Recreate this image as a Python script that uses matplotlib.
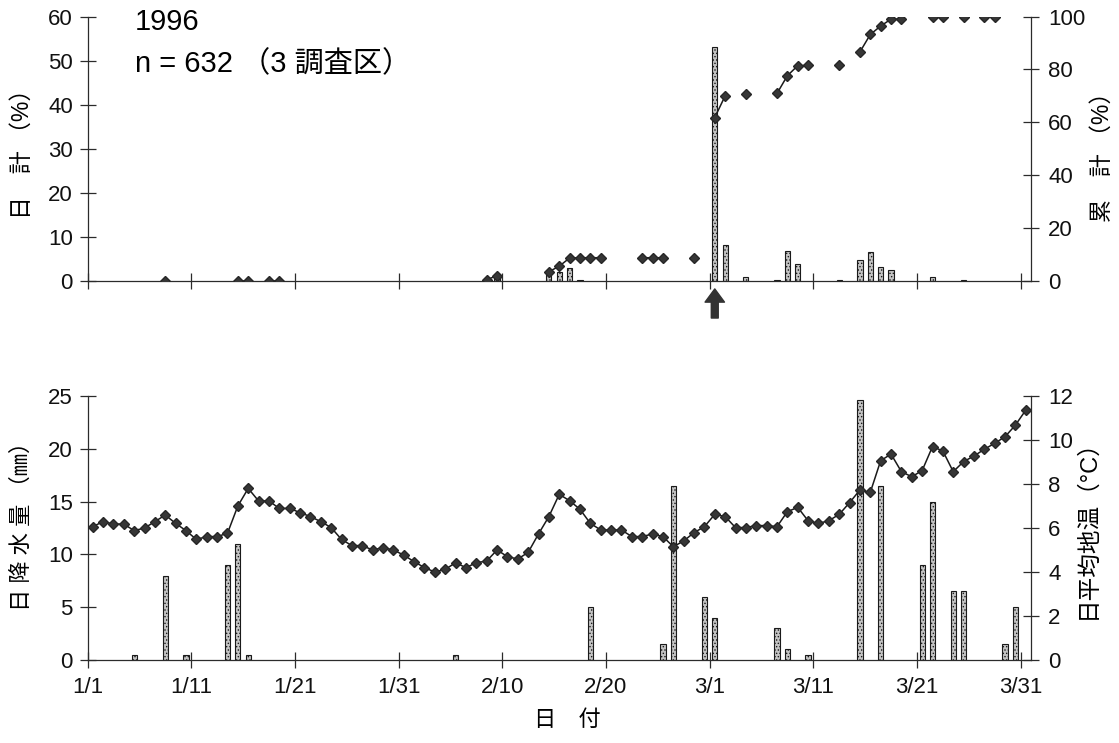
import numpy as np
import pandas as pd
import matplotlib
matplotlib.use('Agg')
import matplotlib.pyplot as plt

plt.rcParams['font.family'] = ['Liberation Sans', 'Noto Sans CJK JP', 'DejaVu Sans']
plt.rcParams['hatch.linewidth'] = 0.6

# ---------------- data ----------------
days = pd.date_range('1996-01-01', '1996-03-31', freq='D')
tick_labels = ['1/1', '1/11', '1/21', '1/31', '2/10', '2/20', '3/1', '3/11', '3/21', '3/31']

# top panel: observation days, daily emergence (%) and cumulative (%)
obs_dates = ['1/8', '1/15', '1/16', '1/18', '1/19', '2/8', '2/9', '2/14', '2/15', '2/16',
             '2/17', '2/18', '2/19', '2/23', '2/24', '2/25', '2/28', '3/1', '3/2', '3/4',
             '3/7', '3/8', '3/9', '3/10', '3/13', '3/15', '3/16', '3/17', '3/18', '3/19',
             '3/22', '3/23', '3/25', '3/27', '3/28']
daily_pct = [0, 0, 0, 0, 0, 0.4, 1.5, 1.7, 2.1, 2.9,
             0.3, 0, 0, 0, 0, 0, 0, 53.0, 8.1, 0.8,
             0.15, 6.8, 3.8, 0, 0.3, 4.8, 6.6, 3.2, 2.6, 0,
             0.9, 0, 0.3, 0, 0]
cum_pct = [0, 0, 0, 0, 0, 0.5, 2.0, 3.5, 5.6, 8.7,
           8.8, 8.8, 8.8, 8.8, 8.8, 8.8, 8.8, 61.8, 70.0, 70.8,
           70.9, 77.6, 81.4, 81.5, 81.8, 86.6, 93.2, 96.4, 99.0, 99.0,
           100, 100, 100, 100, 100]

# bottom panel: daily mean soil temperature (°C), 1/1 .. 3/31
soil_temp = [6.06, 6.29, 6.18, 6.18, 5.88, 6.00, 6.29, 6.59, 6.21, 5.88,
             5.48, 5.61, 5.61, 5.76, 7.00, 7.80, 7.23, 7.23, 6.89, 6.89,
             6.70, 6.52, 6.29, 6.02, 5.48, 5.20, 5.20, 5.00, 5.11, 5.00,
             4.77, 4.47, 4.20, 4.00, 4.12, 4.42, 4.20, 4.42, 4.50, 5.00,
             4.70, 4.59, 4.89, 5.73, 6.52, 7.53, 7.24, 6.85, 6.21, 5.91,
             5.91, 5.91, 5.61, 5.61, 5.73, 5.61, 5.15, 5.41, 5.79, 6.06,
             6.62, 6.52, 6.02, 6.02, 6.11, 6.11, 6.06, 6.74, 6.94, 6.33,
             6.21, 6.33, 6.62, 7.15, 7.73, 7.62, 9.06, 9.36, 8.56, 8.33,
             8.61, 9.70, 9.50, 8.56, 9.02, 9.27, 9.58, 9.85, 10.15, 10.68,
             11.36]
# daily precipitation (mm)
rain_dates = ['1/5', '1/8', '1/10', '1/14', '1/15', '1/16', '2/5', '2/18', '2/25', '2/26',
              '2/29', '3/1', '3/7', '3/8', '3/10', '3/15', '3/17', '3/21', '3/22', '3/24',
              '3/25', '3/29', '3/30']
rain_mm = [0.5, 8.0, 0.5, 9.0, 11.0, 0.5, 0.5, 5.0, 1.5, 16.5,
           6.0, 4.0, 3.0, 1.0, 0.5, 24.6, 16.5, 9.0, 15.0, 6.5,
           6.5, 1.5, 5.0]


def day_index(md):
    return (pd.Timestamp('1996/' + md) - days[0]).days


# ---------------- figure ----------------
W, H = 1119, 743
fig = plt.figure(figsize=(W / 100, H / 100), dpi=100)
left = 87.5 / W
width = (1031 - 87.5) / W
ax1 = fig.add_axes([left, (H - 281) / H, width, 264.5 / H])
ax2 = fig.add_axes([left, (H - 660) / H, width, 264 / H])
ax1r = ax1.twinx()
ax2r = ax2.twinx()

dark = '#2b2b2b'
bar_kw = dict(width=0.5, facecolor='#c4c4c4', edgecolor='#1a1a1a', linewidth=0.8,
              hatch='.....', zorder=2)
mk_kw = dict(marker='D', markersize=5.6, color='#1a1a1a', markerfacecolor='#363636',
             markeredgecolor='#262626', linewidth=1.1)

ntot = len(days)
tick_pos = [day_index(t) for t in tick_labels]

# top panel
bx = [day_index(d) + 0.5 for d, v in zip(obs_dates, daily_pct) if v > 0]
bv = [v for v in daily_pct if v > 0]
ax1.bar(bx, bv, **bar_kw)
cum_full = np.full(ntot, np.nan)
for d, v in zip(obs_dates, cum_pct):
    cum_full[day_index(d)] = v
ax1r.plot(np.arange(ntot) + 0.5, cum_full, **mk_kw)

# bottom panel
rx = [day_index(d) + 0.5 for d in rain_dates]
ax2.bar(rx, rain_mm, **bar_kw)
ax2r.plot(np.arange(ntot) + 0.5, soil_temp, **mk_kw)

for ax in (ax1, ax2, ax1r, ax2r):
    ax.set_xlim(0, ntot)
    for s in ax.spines.values():
        s.set_linewidth(0.9)
        s.set_color(dark)
    ax.spines['top'].set_visible(False)
    ax.set_xticks(tick_pos)
    ax.tick_params(axis='both', direction='inout', length=11, width=0.9, color=dark,
                   labelsize=16, labelcolor='#111111')
for ax in (ax1r, ax2r):
    ax.spines['left'].set_visible(False)
    ax.spines['bottom'].set_visible(False)
    ax.tick_params(axis='y', pad=7)
for ax in (ax1, ax2):
    ax.spines['right'].set_visible(False)
    ax.tick_params(axis='y', pad=5)

ax1.set_ylim(0, 60)
ax1.set_yticks(range(0, 61, 10))
ax1r.set_ylim(0, 100)
ax1r.set_yticks(range(0, 101, 20))
ax1.tick_params(axis='x', labelbottom=False)
ax1r.tick_params(axis='x', labelbottom=False, bottom=False)

ax2.set_ylim(0, 25)
ax2.set_yticks(range(0, 26, 5))
ax2r.set_ylim(0, 12)
ax2r.set_yticks(range(0, 13, 2))
ax2.set_xticklabels(tick_labels)
ax2.tick_params(axis='x', pad=7)
ax2r.tick_params(axis='x', labelbottom=False, bottom=False)

# labels
fig.text(22 / W, 1 - 148 / H, '日　計 （%）', rotation=90, ha='center', va='center', fontsize=16.5)
fig.text(1102 / W, 1 - 151 / H, '累　計 （%）', rotation=90, ha='center', va='center', fontsize=16.5)
fig.text(22 / W, 1 - 521 / H, '日 降 水 量 （㎜）', rotation=90, ha='center', va='center', fontsize=16)
fig.text(1087 / W, 1 - 523 / H, '日平均地温（°C）', rotation=90, ha='center', va='center', fontsize=17)
fig.text(567 / W, 1 - 720 / H, '日　付', ha='center', va='center', fontsize=16)
fig.text(135 / W, 1 - 22 / H, '1996', ha='left', va='center', fontsize=21)
fig.text(135 / W, 1 - 64 / H, 'n = 632 （3 調査区）', ha='left', va='center', fontsize=21)

# arrow under 3/1
x_arrow = day_index('3/1') + 0.5
ax1.annotate('', xy=(x_arrow, -0.03), xytext=(x_arrow, -0.14),
             xycoords=('data', 'axes fraction'), textcoords=('data', 'axes fraction'),
             arrowprops=dict(arrowstyle='simple,head_length=0.95,head_width=1.4,tail_width=0.5',
                             color='#333333', shrinkA=0, shrinkB=0),
             annotation_clip=False)

fig.savefig('out.png', dpi=100, facecolor='white')
